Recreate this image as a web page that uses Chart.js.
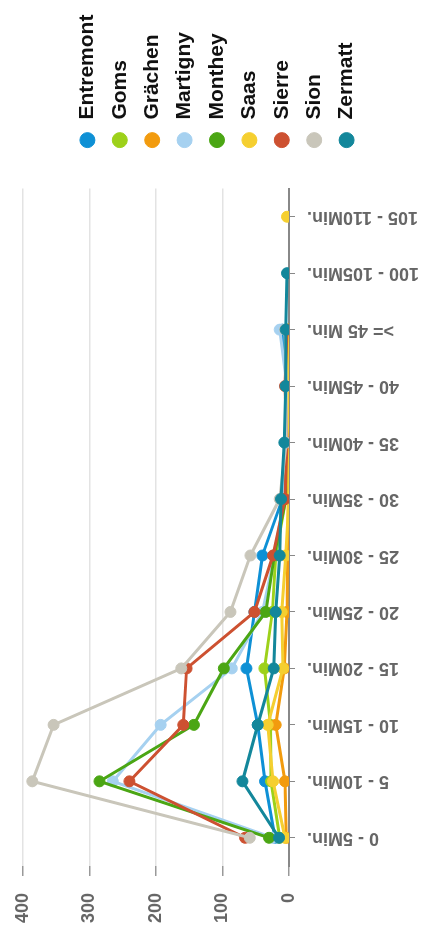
<!DOCTYPE html>
<html>
<head>
<meta charset="utf-8">
<script src="https://cdn.jsdelivr.net/npm/chart.js@4/dist/chart.umd.min.js"></script>
<style>
  html, body { margin: 0; padding: 0; background: #fff; overflow: hidden; }
  /* chart is drawn landscape and turned a quarter to the left */
  #wrap { position: absolute; left: 0; top: 0; width: 934px; height: 430px;
          transform-origin: 0 0; transform: translateY(934px) rotate(-90deg); }
</style>
</head>
<body>
<div id="wrap"><canvas id="chart" width="934" height="430"></canvas></div>
<script>
const categories = ['0 - 5Min.', '5 - 10Min.', '10 - 15Min.', '15 - 20Min.', '20 - 25Min.', '25 - 30Min.',
    '30 - 35Min.', '35 - 40Min.', '40 - 45Min.', '>= 45 Min.', '100 - 105Min.', '105 - 110Min.'];

const entremont = [21, 36, 47, 64, 52, 40, 10, 5, 3, 10, null, null];
const goms      = [14, 27, 28, 37, 25, 20, 5, 2, 1, 0, null, null];
const grachen   = [4, 6, 20, 7, 3, 2, 1, 0, 0, 0, null, null];
const martigny  = [24, 265, 193, 86, 40, 22, 8, 4, 3, 14, null, null];
const monthey   = [30, 285, 143, 98, 35, 22, 5, 3, 2, 2, null, null];
const saas      = [6, 24, 32, 9, 11, 5, 0, 1, 1, 0, null, 3];
const sierre    = [66, 240, 159, 154, 52, 24, 6, 3, 6, 3, null, null];
const sion      = [59, 386, 354, 162, 88, 58, 14, 4, 4, 6, null, null];
const zermatt   = [15, 70, 47, 23, 20, 14, 12, 7, 5, 5, 3, null];

const seriesNames = ['Entremont', 'Goms', 'Grächen', 'Martigny', 'Monthey', 'Saas', 'Sierre', 'Sion', 'Zermatt'];
const seriesValues = [entremont, goms, grachen, martigny, monthey, saas, sierre, sion, zermatt];
const seriesColors = ['#0e90d5', '#9dd11a', '#f29b0e', '#a6d1f0', '#4ba614', '#f5cf30', '#cd5131', '#c9c6ba', '#13879b'];

const valueTicks = [0, 100, 200, 300, 400];

const FONT = "'Liberation Sans', Arial, Helvetica, sans-serif";

const datasets = seriesNames.map((name, i) => ({
    label: name,
    data: seriesValues[i],
    borderColor: seriesColors[i],
    backgroundColor: seriesColors[i],
    pointBackgroundColor: seriesColors[i],
    pointBorderColor: seriesColors[i],
    borderWidth: 3,
    pointRadius: 5.5,
    pointBorderWidth: 1,
    tension: 0,
    spanGaps: false,
    order: seriesNames.length - i   // later series drawn on top
}));

new Chart(document.getElementById('chart').getContext('2d'), {
    type: 'line',
    data: { labels: categories, datasets: datasets },
    options: {
        responsive: false,
        devicePixelRatio: 1,
        animation: false,
        layout: { padding: { left: 0, top: 4, right: 7, bottom: 0 } },
        plugins: {
            tooltip: { enabled: false },
            legend: {
                position: 'right',
                labels: {
                    usePointStyle: true,
                    pointStyle: 'circle',
                    boxWidth: 20,
                    boxHeight: 10.6,
                    padding: 11.4,
                    color: '#111',
                    font: { family: FONT, size: 21, weight: 'bold' },
                    sort: (a, b) => a.datasetIndex - b.datasetIndex
                }
            }
        },
        scales: {
            x: {
                offset: true,
                grid: { drawOnChartArea: false, drawTicks: true, tickLength: 6, tickColor: '#888' },
                border: { display: true, color: '#888', width: 2 },
                ticks: {
                    autoSkip: false, minRotation: 90, maxRotation: 90, padding: 12,
                    color: '#666', font: { family: FONT, size: 18, weight: 'bold' }
                },
                afterFit: s => { s.height = 141; }
            },
            y: {
                min: 0, max: 400,
                grid: { color: '#e3e3e3', lineWidth: 1.5, tickLength: 10, tickColor: '#999' },
                border: { display: false },
                ticks: {
                    stepSize: 100, padding: 17,
                    color: '#666', font: { family: FONT, size: 18, weight: 'bold' },
                    callback: v => valueTicks.includes(v) ? v : ''
                },
                afterFit: s => { s.width = 68; s.paddingTop = 23; }
            },
            gap: {
                type: 'linear', position: 'right', display: true,
                grid: { display: false }, border: { display: false }, ticks: { display: false },
                afterFit: s => { s.width = 27; }
            }
        }
    }
});
</script>
</body>
</html>
